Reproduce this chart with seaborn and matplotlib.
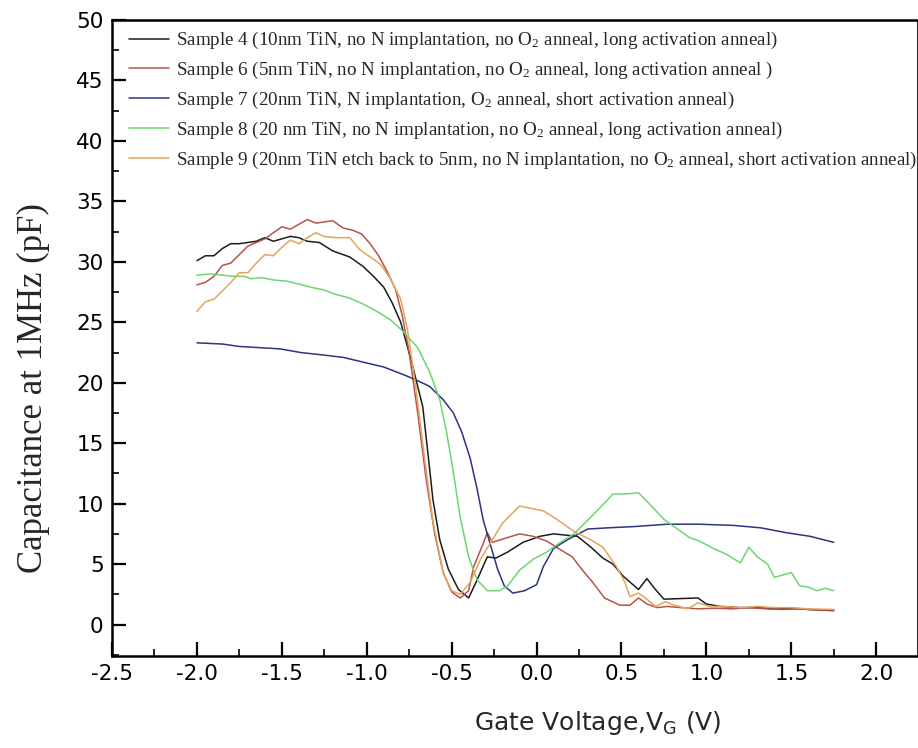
import numpy as np
import pandas as pd
import matplotlib
matplotlib.use("Agg")
import matplotlib.pyplot as plt
import seaborn as sns
from matplotlib.ticker import MultipleLocator

# ---------------- data ----------------
labels = [
    "Sample 4 (10nm TiN, no N implantation, no O$_2$ anneal, long activation anneal)",
    "Sample 6 (5nm TiN, no N implantation, no O$_2$ anneal, long activation anneal )",
    "Sample 7 (20nm TiN, N implantation, O$_2$ anneal, short activation anneal)",
    "Sample 8 (20 nm TiN, no N implantation, no O$_2$ anneal, long activation anneal)",
    "Sample 9 (20nm TiN etch back to 5nm, no N implantation, no O$_2$ anneal, short activation anneal)",
]

s4_v = [-2.0, -1.95, -1.9, -1.85, -1.8, -1.75, -1.7, -1.65, -1.6, -1.55, -1.5, -1.45, -1.4, -1.35,
        -1.28, -1.2, -1.1, -1.02, -0.96, -0.9, -0.85, -0.8, -0.73, -0.67, -0.64, -0.61, -0.57, -0.52,
        -0.46, -0.4, -0.35, -0.29, -0.24, -0.17, -0.08, 0.02, 0.1, 0.17, 0.24, 0.32, 0.39, 0.45, 0.51,
        0.6, 0.65, 0.7, 0.75, 0.85, 0.95, 1.0, 1.08, 1.2, 1.3, 1.4, 1.5, 1.6, 1.75]
s4_c = [30.1, 30.5, 30.5, 31.1, 31.5, 31.5, 31.6, 31.7, 32.0, 31.7, 31.9, 32.1, 32.0, 31.7,
        31.6, 30.9, 30.4, 29.6, 28.8, 27.9, 26.6, 25.0, 21.4, 18.0, 14.2, 10.3, 7.0, 4.6,
        2.9, 2.2, 3.7, 5.6, 5.5, 6.0, 6.8, 7.3, 7.5, 7.4, 7.3, 6.4, 5.5, 5.0, 4.0,
        2.9, 3.8, 2.9, 2.1, 2.15, 2.2, 1.7, 1.5, 1.4, 1.4, 1.3, 1.35, 1.25, 1.15]

s6_v = [-2.0, -1.95, -1.9, -1.85, -1.8, -1.75, -1.7, -1.65, -1.6, -1.55, -1.5, -1.45, -1.4, -1.35,
        -1.3, -1.25, -1.2, -1.14, -1.08, -1.03, -0.98, -0.93, -0.88, -0.83, -0.79, -0.75, -0.7,
        -0.65, -0.6, -0.55, -0.5, -0.45, -0.4, -0.37, -0.32, -0.29, -0.26, -0.17, -0.1, -0.02,
        0.06, 0.14, 0.21, 0.27, 0.33, 0.4, 0.49, 0.55, 0.6, 0.65, 0.71, 0.77, 0.85, 0.95, 1.05,
        1.15, 1.25, 1.35, 1.45, 1.55, 1.65, 1.75]
s6_c = [28.1, 28.3, 28.8, 29.7, 29.9, 30.6, 31.3, 31.6, 31.9, 32.4, 32.9, 32.7, 33.1, 33.5,
        33.2, 33.3, 33.4, 32.8, 32.6, 32.3, 31.5, 30.5, 29.2, 27.7, 25.5, 22.5, 17.5,
        12.0, 7.5, 4.3, 2.7, 2.2, 2.8, 4.8, 6.5, 7.6, 6.8, 7.2, 7.5, 7.3,
        6.9, 6.2, 5.6, 4.5, 3.5, 2.2, 1.6, 1.6, 2.2, 1.7, 1.4, 1.5, 1.4, 1.3, 1.35,
        1.3, 1.4, 1.3, 1.25, 1.3, 1.2, 1.2]

s7_v = [-2.0, -1.85, -1.75, -1.63, -1.51, -1.39, -1.26, -1.14, -1.02, -0.9, -0.79, -0.72, -0.63,
        -0.55, -0.49, -0.44, -0.39, -0.35, -0.315, -0.27, -0.23, -0.19, -0.14, -0.07, 0.0, 0.04,
        0.1, 0.18, 0.3, 0.42, 0.57, 0.77, 0.96, 1.16, 1.32, 1.47, 1.61, 1.75]
s7_c = [23.3, 23.2, 23.0, 22.9, 22.8, 22.5, 22.3, 22.1, 21.7, 21.3, 20.7, 20.3, 19.7,
        18.6, 17.5, 15.9, 13.7, 11.2, 8.7, 6.5, 4.6, 3.2, 2.6, 2.8, 3.3, 4.8,
        6.3, 7.0, 7.9, 8.0, 8.1, 8.3, 8.3, 8.2, 8.0, 7.6, 7.3, 6.8]

s8_v = [-2.0, -1.92, -1.85, -1.79, -1.72, -1.68, -1.62, -1.55, -1.47, -1.41, -1.33, -1.26, -1.18,
        -1.1, -1.02, -0.94, -0.86, -0.79, -0.7, -0.63, -0.57, -0.53, -0.49, -0.45, -0.4, -0.35,
        -0.29, -0.22, -0.17, -0.1, -0.02, 0.06, 0.14, 0.22, 0.32, 0.39, 0.45, 0.53, 0.6, 0.67,
        0.75, 0.83, 0.9, 0.96, 1.04, 1.12, 1.2, 1.25, 1.3, 1.36, 1.4, 1.45, 1.5, 1.55, 1.6, 1.65,
        1.7, 1.75]
s8_c = [28.9, 29.0, 28.9, 28.8, 28.8, 28.6, 28.7, 28.5, 28.4, 28.2, 27.9, 27.7, 27.3,
        27.0, 26.5, 25.9, 25.2, 24.3, 22.9, 20.9, 18.6, 15.9, 12.6, 8.9, 5.6, 3.7,
        2.8, 2.8, 3.2, 4.5, 5.4, 6.0, 6.8, 7.5, 8.9, 9.9, 10.8, 10.8, 10.9, 9.9,
        8.7, 7.9, 7.2, 6.9, 6.3, 5.8, 5.1, 6.4, 5.6, 5.0, 3.9, 4.1, 4.3, 3.2, 3.1, 2.8,
        3.0, 2.8]

s9_v = [-2.0, -1.95, -1.9, -1.85, -1.8, -1.75, -1.7, -1.65, -1.6, -1.55, -1.5, -1.45, -1.4, -1.35,
        -1.3, -1.25, -1.18, -1.1, -1.04, -0.98, -0.92, -0.86, -0.8, -0.76, -0.71, -0.66, -0.61,
        -0.55, -0.5, -0.45, -0.39, -0.33, -0.27, -0.2, -0.1, 0.04, 0.12, 0.22, 0.32, 0.39, 0.47,
        0.52, 0.55, 0.6, 0.65, 0.7, 0.76, 0.8, 0.89, 0.95, 1.02, 1.1, 1.2, 1.3, 1.4, 1.5, 1.6, 1.75]
s9_c = [25.9, 26.7, 26.9, 27.6, 28.3, 29.1, 29.1, 29.9, 30.6, 30.5, 31.2, 31.8, 31.5, 32.0,
        32.4, 32.1, 32.0, 32.0, 31.0, 30.4, 29.8, 28.6, 26.9, 24.4, 19.5, 13.8, 8.5,
        4.3, 2.8, 2.5, 3.5, 5.4, 6.8, 8.4, 9.8, 9.4, 8.7, 7.7, 7.0, 6.4, 4.8,
        3.5, 2.3, 2.6, 2.1, 1.5, 1.9, 1.65, 1.3, 1.8, 1.5, 1.5, 1.4, 1.5, 1.4, 1.4, 1.3, 1.25]

colors = ["#1c1c1c", "#b8524a", "#2b3580", "#6fd46f", "#e3a55a"]

series = [(s4_v, s4_c), (s6_v, s6_c), (s7_v, s7_c), (s8_v, s8_c), (s9_v, s9_c)]
df = pd.concat(
    [pd.DataFrame({"V": v, "C": c, "Sample": lab}) for (v, c), lab in zip(series, labels)],
    ignore_index=True,
)

# ---------------- figure ----------------
sns.set_theme(style="ticks")
plt.rcParams["font.family"] = ["DejaVu Sans"]
plt.rcParams["mathtext.default"] = "regular"

fig = plt.figure(figsize=(9.18, 7.48), dpi=100)
ax = fig.add_axes([112 / 918, 1 - 656 / 748, (917 - 112) / 918, (656 - 20) / 748])

sns.lineplot(data=df, x="V", y="C", hue="Sample", hue_order=labels,
             palette=colors, estimator=None, sort=False, linewidth=1.1, ax=ax)

ax.xaxis.set_major_locator(MultipleLocator(0.5))
ax.xaxis.set_minor_locator(MultipleLocator(0.25))
ax.yaxis.set_major_locator(MultipleLocator(5))
ax.yaxis.set_minor_locator(MultipleLocator(2.5))
ax.set_yticks(np.arange(0, 51, 5))
ax.set_xticks(np.arange(-2.5, 2.01, 0.5))
ax.set_xticklabels([f"{t:.1f}" for t in np.arange(-2.5, 2.01, 0.5)])
ax.set_ylim(-2.6, 50)
ax.set_xlim(-2.5, 2.24)

ax.tick_params(axis="both", which="major", direction="in", length=10, width=1.6,
               labelsize=15.5, pad=6, colors="black")
ax.tick_params(axis="both", which="minor", direction="in", length=5, width=1.4)
ax.tick_params(top=False, right=False, which="both")

for side in ["left", "bottom", "top"]:
    ax.spines[side].set_linewidth(1.8)
    ax.spines[side].set_color("black")
ax.spines["right"].set_linewidth(0.8)
ax.spines["right"].set_color("#333333")

ax.set_xlabel("Gate Voltage,V$_\\mathregular{G}$ (V)", fontsize=18, family="DejaVu Sans")
ax.xaxis.set_label_coords((598 - 112) / 805, (656 - 723) / 636)
ax.xaxis.label.set_va("center")
ax.set_ylabel("Capacitance at 1MHz (pF)", fontsize=25, family="Liberation Serif")
ax.yaxis.set_label_coords((33 - 112) / 805, (656 - 388) / 636)
ax.yaxis.label.set_va("center")

handles, labs = ax.get_legend_handles_labels()
leg = ax.legend(handles, labs, loc="upper left", bbox_to_anchor=(0.016, 0.99),
                frameon=False, prop={"family": "Liberation Serif", "size": 13.7},
                handlelength=2.1, handletextpad=0.4, labelspacing=0.46, borderaxespad=0.0,
                borderpad=0.2)
for ln in leg.get_lines():
    ln.set_linewidth(1.1)

fig.savefig("out.png", dpi=100, facecolor="white")
